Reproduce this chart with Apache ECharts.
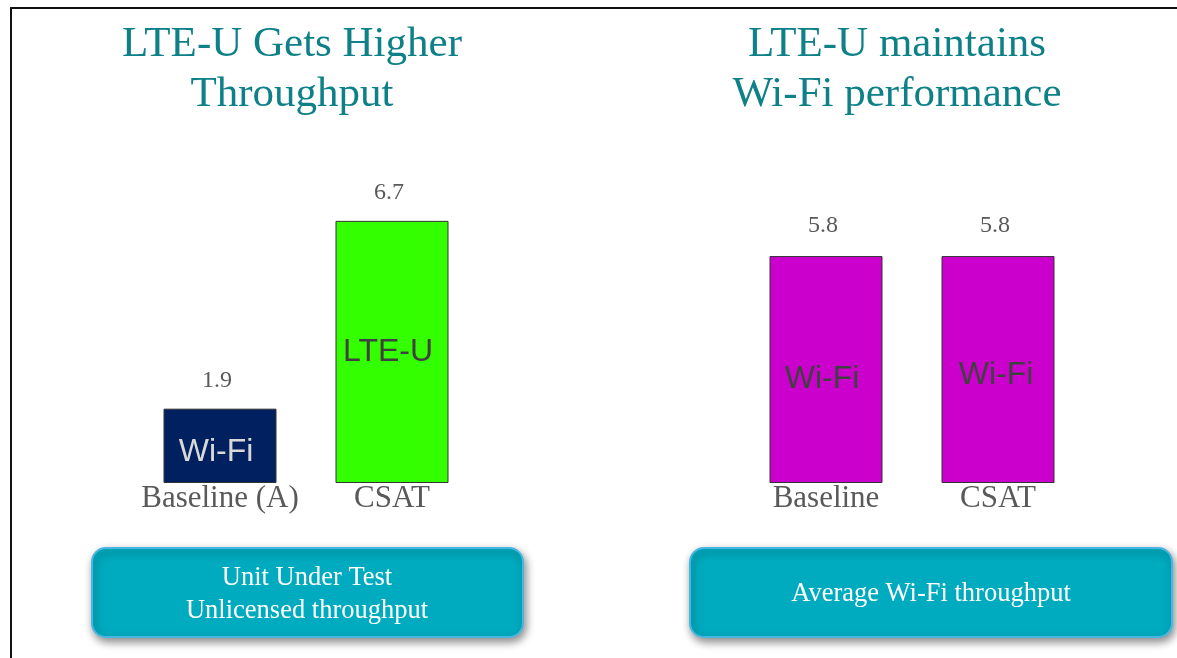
<!DOCTYPE html>
<html>
<head>
<meta charset="utf-8">
<script src="https://cdn.jsdelivr.net/npm/echarts@6/dist/echarts.min.js"></script>
<style>
  html, body { margin: 0; padding: 0; background: #fff; }
  #chart { width: 1177px; height: 658px; }
</style>
</head>
<body>
<div id="chart"></div>
<script>
// data
const leftCategories = ['Baseline (A)', 'CSAT']
const leftValues = [1.9, 6.7]
const leftTech = ['Wi-Fi', 'LTE-U']
const rightCategories = ['Baseline', 'CSAT']
const rightValues = [5.8, 5.8]
const rightTech = ['Wi-Fi', 'Wi-Fi']

const leftColors = ['#002060', '#33FF00']
const leftTextColors = ['#D9D9D9', '#404040']
const rightColors = ['#CC00CC', '#CC00CC']
const rightTextColors = ['#404040', '#404040']
// small nudges of the in-bar labels, as in the slide
const leftTextOffsets = [[-4, 6], [-4, 0]]
const rightTextOffsets = [[-4, 10], [-2, 6]]

const serif = "'Liberation Serif', 'Times New Roman', serif"
const sans = "'Liberation Sans', Arial, sans-serif"

const chart = echarts.init(document.getElementById('chart'))

const barItems = (values, colors, textColors, offsets) => values.map((v, i) => ({
  value: v,
  itemStyle: { color: colors[i], borderColor: '#333', borderWidth: 1 },
  label: { color: textColors[i], offset: offsets[i] }
}))

const xAxisBase = {
  type: 'category',
  axisLine: { show: false },
  axisTick: { show: false },
  axisLabel: { fontFamily: serif, fontSize: 31, color: '#595959', margin: 0, interval: 0 }
}
const yAxisBase = { type: 'value', min: 0, max: 8, show: false }

const mainBar = (idx, values, colors, textColors, offsets, tech) => ({
  type: 'bar',
  xAxisIndex: idx,
  yAxisIndex: idx,
  barWidth: 113,
  barGap: '-100%',
  data: barItems(values, colors, textColors, offsets),
  label: {
    show: true,
    position: 'inside',
    fontFamily: sans,
    fontSize: 32,
    formatter: p => tech[p.dataIndex]
  },
  silent: true
})

// transparent copy of the bars, only for the value on top
const valueBar = (idx, values, dist) => ({
  type: 'bar',
  xAxisIndex: idx,
  yAxisIndex: idx,
  barWidth: 113,
  barGap: '-100%',
  data: values,
  itemStyle: { color: 'transparent' },
  label: {
    show: true,
    position: 'top',
    distance: dist,
    offset: [-3, 0],
    fontFamily: serif,
    fontSize: 24,
    color: '#595959'
  },
  silent: true
})

const titleStyle = { fontFamily: serif, fontSize: 43, fontWeight: 'normal', color: '#0E8088', lineHeight: 50 }

const boxStyle = {
  fill: '#00ABBF', stroke: '#48B6E2', lineWidth: 2,
  shadowBlur: 8, shadowOffsetX: 2, shadowOffsetY: 4, shadowColor: 'rgba(0,0,0,0.45)'
}

const option = {
  animation: false,
  backgroundColor: '#fff',
  title: [
    { text: 'LTE-U Gets Higher\nThroughput', left: 292, top: 20, textAlign: 'center', padding: 0, textStyle: titleStyle },
    { text: 'LTE-U maintains\nWi-Fi performance', left: 897, top: 20, textAlign: 'center', padding: 0, textStyle: titleStyle }
  ],
  grid: [
    { left: 134, width: 344, top: 170, height: 313 },
    { left: 740, width: 344, top: 170, height: 313 }
  ],
  xAxis: [
    Object.assign({}, xAxisBase, { gridIndex: 0, data: leftCategories }),
    Object.assign({}, xAxisBase, { gridIndex: 1, data: rightCategories })
  ],
  yAxis: [
    Object.assign({}, yAxisBase, { gridIndex: 0 }),
    Object.assign({}, yAxisBase, { gridIndex: 1 })
  ],
  series: [
    mainBar(0, leftValues, leftColors, leftTextColors, leftTextOffsets, leftTech),
    valueBar(0, leftValues, 16),
    mainBar(1, rightValues, rightColors, rightTextColors, rightTextOffsets, rightTech),
    valueBar(1, rightValues, 18)
  ],
  graphic: [
    {
      type: 'polyline',
      shape: { points: [[11, 658], [11, 8], [1177, 8]] },
      style: { stroke: '#111', lineWidth: 2, fill: null }
    },
    {
      type: 'rect',
      shape: { x: 92, y: 548, width: 431, height: 89, r: 14 },
      style: boxStyle
    },
    {
      type: 'text',
      style: {
        text: 'Unit Under Test\nUnlicensed throughput',
        x: 307, y: 595,
        textAlign: 'center', textVerticalAlign: 'middle',
        align: 'center', verticalAlign: 'middle',
        font: '26.5px ' + serif, lineHeight: 33, fill: '#fff'
      }
    },
    {
      type: 'rect',
      shape: { x: 690, y: 548, width: 482, height: 89, r: 14 },
      style: boxStyle
    },
    {
      type: 'text',
      style: {
        text: 'Average Wi-Fi throughput',
        x: 931, y: 594,
        textAlign: 'center', textVerticalAlign: 'middle',
        align: 'center', verticalAlign: 'middle',
        font: '26.5px ' + serif, fill: '#fff'
      }
    }
  ]
}

chart.setOption(option)
</script>
</body>
</html>
